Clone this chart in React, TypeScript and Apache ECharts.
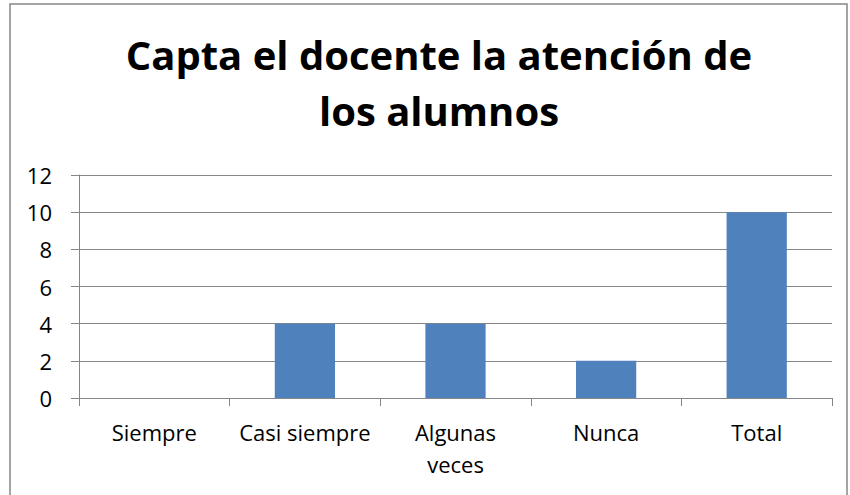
import React, { useEffect, useRef } from "react";
import * as echarts from "echarts";

const categories = ["Siempre", "Casi siempre", "Algunas\nveces", "Nunca", "Total"];
const values = [0, 4, 4, 2, 10];
const titleLines = ["Capta el docente la atención de", "los alumnos"];

export default function App() {
  const ref = useRef<HTMLDivElement>(null);
  useEffect(() => {
    const chart = echarts.init(ref.current!, null, { renderer: "svg" });
    chart.setOption({
      animation: false,
      backgroundColor: "#ffffff",
      graphic: [
        {
          type: "rect",
          shape: { x: 10, y: 4, width: 837, height: 520 },
          style: { fill: "none", stroke: "#868686", lineWidth: 1.5 },
          silent: true,
        },
      ],
      title: {
        text: titleLines.join("\n"),
        left: 434,
        textAlign: "center",
        top: 21,
        textStyle: {
          fontFamily: "Open Sans",
          fontWeight: "bold",
          fontSize: 40,
          lineHeight: 56,
          color: "#000000",
        },
      },
      grid: { left: 79, right: 18, top: 175, bottom: 97 },
      xAxis: {
        type: "category",
        data: categories,
        axisLine: { lineStyle: { color: "#868686", width: 1 } },
        axisTick: { show: true, length: 8, alignWithLabel: false, lineStyle: { color: "#868686" } },
        axisLabel: {
          color: "#000000",
          fontFamily: "Open Sans",
          fontSize: 22,
          lineHeight: 32,
          margin: 18,
          interval: 0,
        },
      },
      yAxis: {
        type: "value",
        min: 0,
        max: 12,
        interval: 2,
        axisLine: { show: true, lineStyle: { color: "#868686", width: 1 } },
        axisTick: { show: true, length: 8, lineStyle: { color: "#868686" } },
        splitLine: { lineStyle: { color: "#868686", width: 1.2 } },
        axisLabel: {
          color: "#000000",
          fontFamily: "Open Sans",
          fontSize: 22,
          margin: 27,
        },
      },
      series: [
        {
          type: "bar",
          data: values,
          barWidth: "40%",
          itemStyle: { color: "#4F81BD" },
        },
      ],
    });
    return () => chart.dispose();
  }, []);
  return (
    <div
      ref={ref}
      style={{ position: "absolute", left: 0, top: 0, width: 850, height: 495 }}
    />
  );
}
